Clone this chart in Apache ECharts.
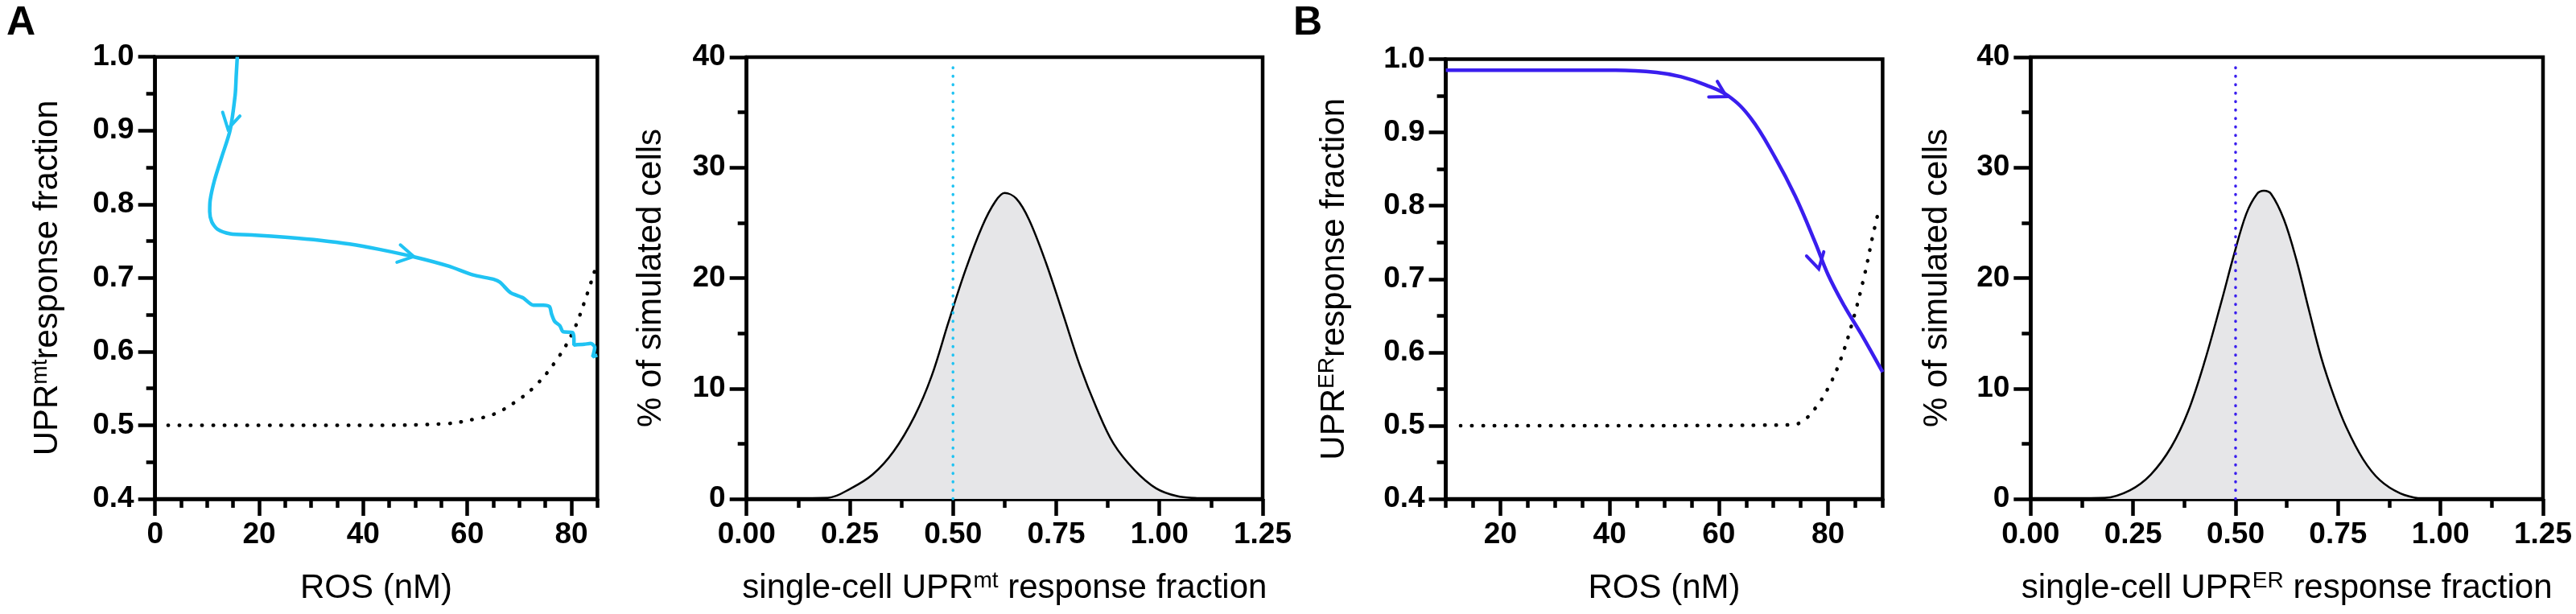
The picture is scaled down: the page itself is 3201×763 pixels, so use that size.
<!DOCTYPE html>
<html>
<head>
<meta charset="utf-8">
<title>UPR response fraction</title>
<script src="https://cdn.jsdelivr.net/npm/echarts@6/dist/echarts.min.js"></script>
<style>
  html, body { margin: 0; padding: 0; background: #fff; }
  #chart { width: 3201px; height: 763px; }
</style>
</head>
<body>
<div id="chart"></div>
<script>
// panel A: UPRmt trajectory vs ROS
const cyanRos = [15.8, 15.6, 15.4, 14.4, 12.8, 11.4, 10.6, 10.5, 10.9, 12.0, 14.4, 19.2, 25.5, 31.8, 37.4, 42.9, 50.1, 56.4, 61.1, 65.1, 66.3, 68.3, 70.7, 72.7, 74.6, 75.8, 76.2, 76.8, 77.8, 78.4, 80.2, 80.5, 80.5, 82.5, 83.7, 84.5, 84.1, 85.0];
const cyanFrac = [1.0, 0.975, 0.949, 0.90, 0.864, 0.832, 0.806, 0.79, 0.776, 0.766, 0.760, 0.758, 0.755, 0.751, 0.746, 0.739, 0.728, 0.716, 0.704, 0.698, 0.694, 0.680, 0.673, 0.663, 0.663, 0.661, 0.651, 0.641, 0.635, 0.627, 0.626, 0.617, 0.609, 0.610, 0.611, 0.606, 0.593, 0.595];
const dotARos = [2.5, 20, 40, 55.6, 61.9, 65.1, 69.1, 73, 77, 80.2, 82.5, 84.9];
const dotAFrac = [0.5, 0.5, 0.5, 0.502, 0.509, 0.515, 0.531, 0.553, 0.587, 0.625, 0.667, 0.719];
// arrow: tip x, tip y, point behind x, point behind y
const arrowsA = [[14.0, 0.902, 15.2, 0.94], [49.7, 0.729, 44, 0.737]];

// panel A histogram
const histAX = [0.0, 0.197, 0.253, 0.305, 0.356, 0.407, 0.448, 0.489, 0.530, 0.571, 0.602, 0.625, 0.653, 0.684, 0.725, 0.766, 0.807, 0.848, 0.889, 0.940, 0.992, 1.043, 1.094, 1.11];
const histAY = [0, 0.1, 0.96, 2.2, 4.3, 7.5, 11.1, 16.0, 20.7, 24.7, 26.9, 27.7, 27.2, 25.3, 21.4, 16.8, 12.1, 8.2, 5.0, 2.6, 0.96, 0.25, 0.04, 0];

// panel B: UPRER trajectory vs ROS
const blueRos = [10, 41.1, 48.6, 53.1, 57.5, 61.7, 65.8, 70.3, 74.0, 77.7, 80.0, 83.0, 86.0, 90];
const blueFrac = [0.985, 0.985, 0.982, 0.976, 0.965, 0.950, 0.920, 0.866, 0.813, 0.749, 0.706, 0.663, 0.626, 0.573];
const dotBRos = [12.7, 40, 73.3, 75.5, 77.7, 80, 82.2, 84.5, 86.7, 88.2, 89.3];
const dotBFrac = [0.5, 0.5, 0.501, 0.507, 0.524, 0.551, 0.588, 0.642, 0.706, 0.759, 0.794];
const arrowsB = [[61.4, 0.949, 57, 0.967], [78.3, 0.714, 76.5, 0.77]];

// panel B histogram
const histBX = [0.0, 0.181, 0.242, 0.293, 0.343, 0.384, 0.425, 0.465, 0.496, 0.526, 0.552, 0.569, 0.587, 0.618, 0.648, 0.679, 0.709, 0.740, 0.770, 0.811, 0.852, 0.902, 0.953];
const histBY = [0, 0.1, 0.78, 2.2, 4.7, 7.9, 12.5, 17.8, 22.1, 25.8, 27.6, 27.9, 27.6, 25.3, 21.7, 17.1, 12.8, 9.3, 6.5, 3.6, 1.7, 0.5, 0.0];

// threshold lines
const thresholdX = [0.5, 0.5];
const thresholdY = [0, 39.5];

// tick labels
const rosTicksA = [0, 20, 40, 60, 80];
const rosTicksB = [20, 40, 60, 80];

const CYAN = '#20C3F3';
const BLUE = '#3A1EEE';
const FONT = 'Liberation Sans';

const pairs = (xs, ys) => xs.map((x, i) => [x, ys[i]]);

const black = { color: '#000', width: 4.5 };
const labelStyle = { color: '#000', fontFamily: FONT, fontWeight: 'bold', fontSize: 37, margin: 26 };
const nameStyle = {
  color: '#000', fontFamily: FONT, fontSize: 42, lineHeight: 46,
  rich: { sup: { fontFamily: FONT, fontSize: 28, lineHeight: 28, verticalAlign: 'top', color: '#000' } }
};

function valueAxis(extra) {
  return Object.assign({
    type: 'value',
    axisLine: { show: true, lineStyle: black },
    axisTick: { show: true, length: 21, lineStyle: black },
    splitLine: { show: false },
    axisLabel: labelStyle,
    nameTextStyle: nameStyle,
    nameLocation: 'middle'
  }, extra);
}

function chevron(color) {
  return function (params, api) {
    const tip = api.coord([api.value(0), api.value(1)]);
    const back = api.coord([api.value(2), api.value(3)]);
    let dx = back[0] - tip[0];
    let dy = back[1] - tip[1];
    const len = Math.hypot(dx, dy);
    dx /= len;
    dy /= len;
    const a = Math.PI / 6;
    const L = 22;
    const arm = s => [
      tip[0] + L * (dx * Math.cos(s * a) - dy * Math.sin(s * a)),
      tip[1] + L * (dx * Math.sin(s * a) + dy * Math.cos(s * a))
    ];
    return {
      type: 'polyline',
      shape: { points: [arm(1), tip, arm(-1)] },
      style: { stroke: color, lineWidth: 4, fill: 'none', lineCap: 'round' }
    };
  };
}

const gridBox = { show: true, borderColor: '#000', borderWidth: 4.5, backgroundColor: 'transparent' };

const chart = echarts.init(document.getElementById('chart'));

const option = {
  animation: false,
  backgroundColor: '#fff',
  title: [
    { text: 'A', left: 8, top: 4, padding: 0, textStyle: { fontFamily: FONT, fontWeight: 'bold', fontSize: 50, color: '#000' } },
    { text: 'B', left: 1607, top: 4, padding: 0, textStyle: { fontFamily: FONT, fontWeight: 'bold', fontSize: 50, color: '#000' } }
  ],
  grid: [
    Object.assign({ left: 192.7, top: 70.7, width: 549.6, height: 549.3 }, gridBox),
    Object.assign({ left: 927.7, top: 71, width: 641.3, height: 549 }, gridBox),
    Object.assign({ left: 1796.6, top: 73.5, width: 542.8, height: 546.5 }, gridBox),
    Object.assign({ left: 2523.3, top: 71, width: 636.7, height: 549 }, gridBox)
  ],
  xAxis: [
    // A: minor ticks every 5
    valueAxis({ gridIndex: 0, position: 'bottom', min: 0, max: 85, interval: 5, axisTick: { show: true, length: 11, lineStyle: black }, axisLabel: { show: false } }),
    // A: major ticks + labels
    valueAxis({
      gridIndex: 0, position: 'bottom', min: 0, max: 85,
      axisLine: { show: false },
      axisTick: { show: true, length: 21, lineStyle: black, customValues: rosTicksA },
      axisLabel: Object.assign({ customValues: rosTicksA }, labelStyle),
      name: 'ROS (nM)', nameGap: 88
    }),
    valueAxis({
      gridIndex: 1, position: 'bottom', min: 0, max: 1.25, interval: 0.25,
      minorTick: { show: true, splitNumber: 2, length: 11, lineStyle: black },
      axisLabel: Object.assign({ formatter: v => v.toFixed(2) }, labelStyle),
      name: 'single-cell UPR{sup|mt} response fraction', nameGap: 88
    }),
    // B: minor ticks every 5
    valueAxis({ gridIndex: 2, position: 'bottom', min: 10, max: 90, interval: 5, axisTick: { show: true, length: 11, lineStyle: black }, axisLabel: { show: false } }),
    valueAxis({
      gridIndex: 2, position: 'bottom', min: 10, max: 90,
      axisLine: { show: false },
      axisTick: { show: true, length: 21, lineStyle: black, customValues: rosTicksB },
      axisLabel: Object.assign({ customValues: rosTicksB }, labelStyle),
      name: 'ROS (nM)', nameGap: 88
    }),
    valueAxis({
      gridIndex: 3, position: 'bottom', min: 0, max: 1.25, interval: 0.25,
      minorTick: { show: true, splitNumber: 2, length: 11, lineStyle: black },
      axisLabel: Object.assign({ formatter: v => v.toFixed(2) }, labelStyle),
      name: 'single-cell UPR{sup|ER} response fraction', nameGap: 88
    })
  ],
  yAxis: [
    valueAxis({
      gridIndex: 0, position: 'left', min: 0.4, max: 1.0, interval: 0.1,
      minorTick: { show: true, splitNumber: 2, length: 11, lineStyle: black },
      axisLabel: Object.assign({ formatter: v => v.toFixed(1) }, labelStyle),
      name: 'UPR{sup|mt}response fraction', nameRotate: 90, nameGap: 110
    }),
    valueAxis({
      gridIndex: 1, position: 'left', min: 0, max: 40, interval: 10,
      minorTick: { show: true, splitNumber: 2, length: 11, lineStyle: black },
      name: '% of simulated cells', nameRotate: 90, nameGap: 95
    }),
    valueAxis({
      gridIndex: 2, position: 'left', min: 0.4, max: 1.0, interval: 0.1,
      minorTick: { show: true, splitNumber: 2, length: 11, lineStyle: black },
      axisLabel: Object.assign({ formatter: v => v.toFixed(1) }, labelStyle),
      name: 'UPR{sup|ER}response fraction', nameRotate: 90, nameGap: 115
    }),
    valueAxis({
      gridIndex: 3, position: 'left', min: 0, max: 40, interval: 10,
      minorTick: { show: true, splitNumber: 2, length: 11, lineStyle: black },
      name: '% of simulated cells', nameRotate: 90, nameGap: 93
    })
  ],
  series: [
    // panel A
    {
      type: 'line', xAxisIndex: 1, yAxisIndex: 0, data: pairs(dotARos, dotAFrac),
      smooth: 0.4, showSymbol: false, symbol: 'none',
      lineStyle: { color: '#000', width: 4.5, type: [0.5, 13.5], cap: 'round' }
    },
    {
      type: 'line', xAxisIndex: 1, yAxisIndex: 0, data: pairs(cyanRos, cyanFrac),
      smooth: 0.25, showSymbol: false, symbol: 'none',
      lineStyle: { color: CYAN, width: 4.5 }
    },
    {
      type: 'custom', xAxisIndex: 1, yAxisIndex: 0, data: arrowsA,
      encode: { x: [0, 2], y: [1, 3] }, renderItem: chevron(CYAN), z: 5
    },
    // panel A histogram
    {
      type: 'line', xAxisIndex: 2, yAxisIndex: 1, data: pairs(histAX, histAY),
      smooth: 0.35, showSymbol: false, symbol: 'none',
      lineStyle: { color: '#000', width: 2.5 },
      areaStyle: { color: '#E6E6E8', opacity: 1 }
    },
    {
      type: 'line', xAxisIndex: 2, yAxisIndex: 1, data: pairs(thresholdX, thresholdY),
      showSymbol: false, symbol: 'none', z: 4,
      lineStyle: { color: CYAN, width: 3.5, type: [0.5, 10], cap: 'round' }
    },
    // panel B
    {
      type: 'line', xAxisIndex: 4, yAxisIndex: 2, data: pairs(dotBRos, dotBFrac),
      smooth: 0.4, showSymbol: false, symbol: 'none',
      lineStyle: { color: '#000', width: 4.5, type: [0.5, 13.5], cap: 'round' }
    },
    {
      type: 'line', xAxisIndex: 4, yAxisIndex: 2, data: pairs(blueRos, blueFrac),
      smooth: 0.4, showSymbol: false, symbol: 'none',
      lineStyle: { color: BLUE, width: 4.5 }
    },
    {
      type: 'custom', xAxisIndex: 4, yAxisIndex: 2, data: arrowsB,
      encode: { x: [0, 2], y: [1, 3] }, renderItem: chevron(BLUE), z: 5
    },
    // panel B histogram
    {
      type: 'line', xAxisIndex: 5, yAxisIndex: 3, data: pairs(histBX, histBY),
      smooth: 0.35, showSymbol: false, symbol: 'none',
      lineStyle: { color: '#000', width: 2.5 },
      areaStyle: { color: '#E6E6E8', opacity: 1 }
    },
    {
      type: 'line', xAxisIndex: 5, yAxisIndex: 3, data: pairs(thresholdX, thresholdY),
      showSymbol: false, symbol: 'none', z: 4,
      lineStyle: { color: BLUE, width: 3.5, type: [0.5, 10], cap: 'round' }
    }
  ]
};

chart.setOption(option);
</script>
</body>
</html>
